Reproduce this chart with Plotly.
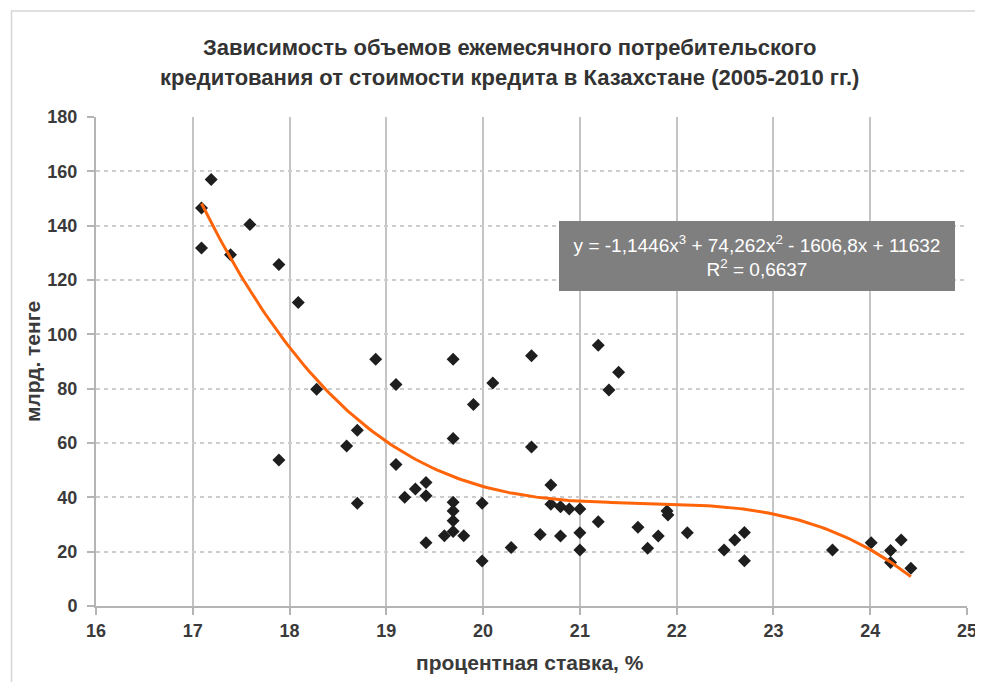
import numpy as np
import plotly.graph_objects as go

# --- data ---
rate = [17.09, 17.09, 17.19, 17.39, 17.59, 17.89, 18.09, 17.89, 18.28, 18.59,
        18.70, 18.70, 18.89, 19.10, 19.10, 19.19, 19.30, 19.41, 19.41, 19.41,
        19.69, 19.69, 19.69, 19.69, 19.69, 19.60, 19.69, 19.80, 19.90, 19.99,
        19.99, 20.10, 20.29, 20.50, 20.50, 20.59, 20.70, 20.70, 20.80, 20.89,
        21.00, 20.80, 21.00, 21.00, 21.19, 21.30, 21.40, 21.19, 21.60, 21.70,
        21.81, 21.91, 21.90, 22.11, 22.49, 22.60, 22.70, 22.70, 23.61, 24.01,
        24.21, 24.21, 24.32, 24.42]
volume = [131.8, 146.5, 157.0, 129.3, 140.4, 125.7, 111.7, 53.7, 79.8, 58.9,
          64.7, 37.8, 90.8, 81.5, 52.1, 40.0, 43.1, 45.5, 40.6, 23.3,
          90.8, 61.7, 38.2, 35.0, 31.4, 25.9, 27.4, 25.9, 74.2, 37.8,
          16.6, 82.1, 21.5, 92.1, 58.5, 26.3, 44.5, 37.5, 36.5, 35.7,
          35.7, 25.8, 27.0, 20.6, 96.0, 79.5, 86.0, 31.0, 29.0, 21.3,
          25.8, 33.5, 35.0, 27.0, 20.6, 24.3, 27.1, 16.7, 20.6, 23.3,
          20.4, 16.0, 24.3, 13.9]
# cubic trendline coefficients as printed on the chart (highest power first)
trend_coef = [-1.1446, 74.262, -1606.8, 11632]
x_ticks = [16, 17, 18, 19, 20, 21, 22, 23, 24, 25]
y_ticks = [0, 20, 40, 60, 80, 100, 120, 140, 160, 180]

title_lines = ["Зависимость объемов ежемесячного потребительского",
               "кредитования от стоимости кредита в Казахстане (2005-2010 гг.)"]
x_title = "процентная ставка, %"
y_title = "млрд. тенге"
eq_text = "y = -1,1446x<sup>3</sup> + 74,262x<sup>2</sup> - 1606,8x + 11632<br>R<sup>2</sup> = 0,6637"

FONT_R = "Liberation Sans, Arial, sans-serif"
TXT = "#3a3a3a"

tx = np.linspace(min(rate), max(rate), 200)
ty = np.polyval(trend_coef, tx)

fig = go.Figure()
fig.add_trace(go.Scatter(
    x=rate, y=volume, mode="markers",
    marker=dict(symbol="diamond", size=10, color="#1e1e1e"),
    showlegend=False, cliponaxis=False))
fig.add_trace(go.Scatter(
    x=tx, y=ty, mode="lines",
    line=dict(color="#ff6408", width=3),
    showlegend=False))

tickfont = dict(family=FONT_R, size=18, color=TXT, weight="bold")
fig.update_layout(
    width=983, height=682,
    # page body has an 8px default margin; margins compensate for it
    margin=dict(l=88, r=24, t=109, b=84),
    paper_bgcolor="white", plot_bgcolor="white",
    font=dict(family=FONT_R, color=TXT),
    xaxis=dict(range=[16, 25], tickvals=x_ticks, ticktext=[str(v) for v in x_ticks],
               showgrid=True, gridcolor="#c4c4c4", gridwidth=2,
               showline=True, linecolor="#b4b4b4", linewidth=2,
               ticks="outside", ticklen=7, tickcolor="#b4b4b4", tickwidth=2,
               tickfont=tickfont, zeroline=False),
    yaxis=dict(range=[0, 180], tickvals=y_ticks, ticktext=[str(v) for v in y_ticks],
               showgrid=True, gridcolor="#cccccc", gridwidth=1.5, griddash="4px,4px",
               showline=True, linecolor="#b4b4b4", linewidth=2,
               ticks="outside", ticklen=7, tickcolor="#b4b4b4", tickwidth=2,
               ticklabelstandoff=6,
               tickfont=tickfont, zeroline=False),
)

# chart-area border
fig.add_shape(type="rect", xref="paper", yref="paper",
              x0=-0.097, x1=1.05, y0=-0.25, y1=1.2168,
              line=dict(color="#d6d6d6", width=1.5), fillcolor="rgba(0,0,0,0)", layer="below")

# titles
fig.add_annotation(text=title_lines[0], xref="paper", yref="paper", x=0.4745, y=1.143,
                   showarrow=False, xanchor="center", yanchor="middle",
                   font=dict(family=FONT_R, size=22, color="#333333", weight="bold"))
fig.add_annotation(text=title_lines[1], xref="paper", yref="paper", x=0.4745, y=1.0798,
                   showarrow=False, xanchor="center", yanchor="middle",
                   font=dict(family=FONT_R, size=22, color="#333333", weight="bold"))
fig.add_annotation(text=x_title, xref="paper", yref="paper", x=0.498, y=-0.1164,
                   showarrow=False, xanchor="center", yanchor="middle",
                   font=dict(family=FONT_R, size=21, color=TXT, weight="bold"))
fig.add_annotation(text=y_title, xref="paper", yref="paper", x=-0.0728, y=0.5,
                   showarrow=False, xanchor="center", yanchor="middle", textangle=-90,
                   font=dict(family=FONT_R, size=21, color=TXT, weight="bold"))

# equation box
fig.add_annotation(text=eq_text, xref="paper", yref="paper", x=0.7589, y=0.7156,
                   showarrow=False, xanchor="center", yanchor="middle",
                   width=386, height=60, borderpad=4, align="center", valign="middle",
                   bgcolor="#7f7f7f", bordercolor="#7f7f7f",
                   font=dict(family=FONT_R, size=19, color="white"))

fig.write_html("out.html")
